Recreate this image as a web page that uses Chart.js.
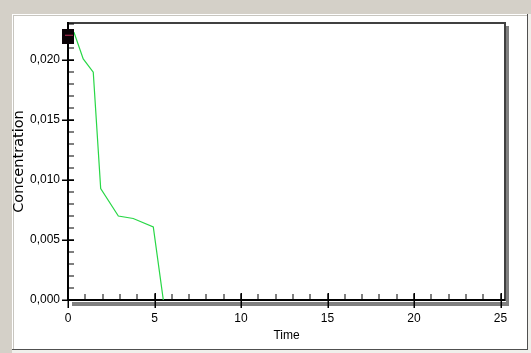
<!DOCTYPE html>
<html><head><meta charset="utf-8">
<script src="https://cdn.jsdelivr.net/npm/chart.js@4/dist/chart.umd.min.js"></script>
<style>html,body{margin:0;padding:0;background:#fff;}#wrap{width:531px;height:353px;position:relative}</style>
</head><body><div id="wrap"><canvas id="c" width="531" height="353"></canvas></div>
<script>
// ---- data ----
const timeValues = [0, 0.35, 0.88, 1.46, 1.89, 2.91, 3.77, 4.93, 5.51];
const concentrationValues = [0.0224, 0.0223, 0.0201, 0.0190, 0.0093, 0.0070, 0.0068, 0.0061, 0.0];
const markerTime = [0];
const markerConcentration = [0.0220];
const xTickValues = [0, 5, 10, 15, 20, 25];
const yTickValues = [0, 0.005, 0.010, 0.015, 0.020];
const xMinorTickValues = [0,1,2,3,4,5,6,7,8,9,10,11,12,13,14,15,16,17,18,19,20,21,22,23,24,25];
const yMinorTickValues = [0,0.001,0.002,0.003,0.004,0.005,0.006,0.007,0.008,0.009,0.010,0.011,0.012,0.013,0.014,0.015,0.016,0.017,0.018,0.019,0.020,0.021,0.022,0.023];
const xRange = [0, 25.26];
const yRange = [0, 0.0231];

// custom marker (black box with a red dash)
const marker = document.createElement('canvas');
marker.width = 12; marker.height = 15;
(function(){const g = marker.getContext('2d'); g.fillStyle = '#0a0206'; g.fillRect(0,0,12,15); g.fillStyle = '#c0305a'; g.fillRect(3,6,8,1);})();

const framePlugin = {
  id: 'frame',
  beforeDraw(chart) {
    const ctx = chart.ctx;
    ctx.save();
    ctx.fillStyle = '#d4d0c8'; ctx.fillRect(0, 0, 531, 353);
    ctx.fillStyle = '#ffffff'; ctx.fillRect(12, 14, 516, 336);
    ctx.fillStyle = '#c8c6c0'; ctx.fillRect(13, 15, 514, 1); ctx.fillRect(13, 15, 1, 334);
    ctx.fillStyle = '#505050'; ctx.fillRect(527, 14, 1, 336); ctx.fillRect(12, 349, 516, 1);
    ctx.fillStyle = '#f0efeb'; ctx.fillRect(528, 14, 3, 339); ctx.fillRect(12, 350, 519, 3);
    ctx.restore();
  },
  beforeDatasetsDraw(chart) {
    const ctx = chart.ctx;
    const xs = chart.scales.x, ys = chart.scales.y;
    const a = chart.chartArea;
    const x0 = xs.getPixelForValue(0), y0 = ys.getPixelForValue(0);
    ctx.save();
    // shadows
    ctx.fillStyle = '#808080';
    ctx.fillRect(x0 + 4, y0 + 2, a.right - x0 - 2, 4);
    ctx.fillRect(a.right + 1, a.top + 3, 3, y0 - a.top + 3);
    // top & right border
    ctx.fillStyle = '#404040';
    ctx.fillRect(x0, a.top - 1, a.right - x0 + 1, 2);
    ctx.fillRect(a.right - 1, a.top - 1, 2, y0 - a.top + 2);
    // axes
    ctx.fillStyle = '#000000';
    ctx.fillRect(x0 - 1, a.top - 1, 2, y0 - a.top + 2);
    ctx.fillRect(x0 - 1, y0 - 1, a.right - x0 + 1, 2);
    // x ticks
    xMinorTickValues.forEach(v => { const p = Math.round(xs.getPixelForValue(v)); ctx.fillRect(p - 0.5, y0 - 6, 1, 6); });
    xTickValues.forEach(v => { const p = Math.round(xs.getPixelForValue(v)); ctx.fillRect(p - 0.5, y0 - 7, 1.5, 15); });
    // y ticks
    yMinorTickValues.forEach(v => { const p = Math.round(ys.getPixelForValue(v)); ctx.fillRect(x0, p - 0.5, 6, 1); });
    yTickValues.forEach(v => { const p = Math.round(ys.getPixelForValue(v)); ctx.fillRect(x0 - 6, p - 0.5, 12, 1.5); });
    ctx.restore();
  }
};

new Chart(document.getElementById('c'), {
  type: 'scatter',
  data: {
    datasets: [
      {
        data: timeValues.map((t, i) => ({x: t, y: concentrationValues[i]})),
        showLine: true, borderColor: 'rgb(40,215,70)', borderWidth: 1.2,
        pointRadius: 0, fill: false, tension: 0, order: 1
      },
      {
        data: markerTime.map((t, i) => ({x: t, y: markerConcentration[i]})),
        showLine: false, pointStyle: marker, pointRadius: 7, clip: false, order: -1
      }
    ]
  },
  options: {
    responsive: false, animation: false, devicePixelRatio: 1,
    layout: {padding: {left: 0, top: 23, right: 26, bottom: 0}},
    plugins: {legend: {display: false}, tooltip: {enabled: false}},
    scales: {
      x: {
        type: 'linear', min: xRange[0], max: xRange[1],
        grid: {display: false, drawTicks: false}, border: {display: false},
        afterBuildTicks: s => { s.ticks = xTickValues.map(v => ({value: v})); },
        afterFit: s => { s.height = 53; },
        ticks: {color: '#000', padding: 11, maxRotation: 0, autoSkip: false,
          font: {family: 'Liberation Sans, Arial, sans-serif', size: 12},
          callback: v => String(v)},
        title: {display: true, text: 'Time', color: '#000',
          font: {family: 'Liberation Sans, Arial, sans-serif', size: 12}, padding: {top: 0, bottom: 10}}
      },
      y: {
        type: 'linear', min: yRange[0], max: yRange[1],
        grid: {display: false, drawTicks: false}, border: {display: false},
        afterBuildTicks: s => { s.ticks = yTickValues.map(v => ({value: v})); },
        afterFit: s => { s.width = 68; },
        ticks: {color: '#000', padding: 8, autoSkip: false,
          font: {family: 'Liberation Sans, Arial, sans-serif', size: 12},
          callback: v => v.toFixed(3).replace('.', ',')},
        title: {display: true, text: 'Concentration', color: '#000',
          font: {family: 'DejaVu Sans, sans-serif', size: 14.5}, padding: {top: 11, bottom: 0}}
      }
    }
  },
  plugins: [framePlugin]
});
</script></body></html>
